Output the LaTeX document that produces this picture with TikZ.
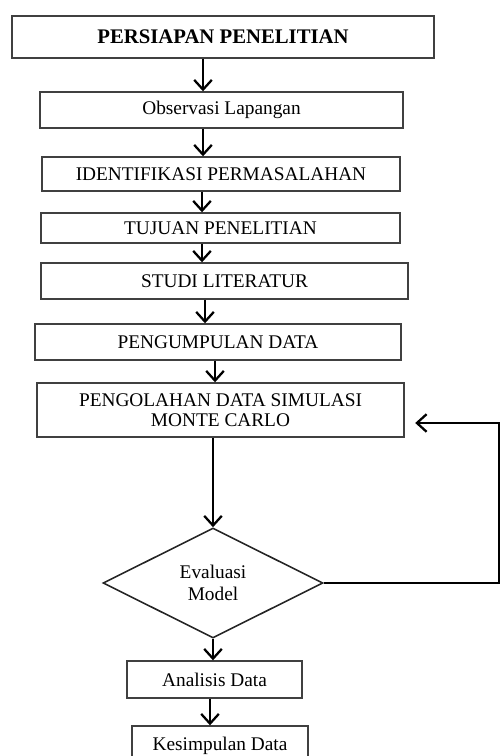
\documentclass[tikz,border=0pt]{standalone}
\usepackage{fontspec}
\setmainfont{Liberation Serif}
\usetikzlibrary{arrows.meta,shapes.geometric}

\begin{document}
\begin{tikzpicture}[x=0.02cm, y=-0.02cm, >={Straight Barb[length=5.5pt,width=10pt]},
        stepbox/.style={draw=black!75, line width=0.8pt, inner sep=2pt, align=center,
            font=\fontsize{11}{11.5}\selectfont},
        decision/.style={diamond, draw=black!85, line width=0.9pt, inner sep=0pt, align=center,
            font=\fontsize{11}{12.5}\selectfont},
        flow/.style={->, line width=1.3pt}]
        \useasboundingbox (0,0) rectangle (500,756);

        % Steps of the research
        \node[stepbox, minimum width=8.44cm, minimum height=0.84cm,
            font=\fontsize{11.8}{13}\selectfont\bfseries] (persiapan) at (223,37) {PERSIAPAN PENELITIAN};
        \node[stepbox, minimum width=7.26cm, minimum height=0.72cm] (observasi) at (221.5,110) {Observasi Lapangan};
        \node[stepbox, minimum width=7.16cm, minimum height=0.68cm] (identifikasi) at (221,174) {IDENTIFIKASI PERMASALAHAN};
        \node[stepbox, minimum width=7.18cm, minimum height=0.60cm] (tujuan) at (220.5,228) {TUJUAN PENELITIAN};
        \node[stepbox, minimum width=7.34cm, minimum height=0.72cm] (studi) at (224.5,281) {STUDI LITERATUR};
        \node[stepbox, minimum width=7.32cm, minimum height=0.72cm] (pengumpulan) at (218,342) {PENGUMPULAN DATA};
        \node[stepbox, minimum width=7.34cm, minimum height=1.08cm] (pengolahan) at (220.5,410) {PENGOLAHAN DATA SIMULASI\\MONTE CARLO};

        % Decision
        \node[decision, minimum width=4.4cm, minimum height=2.2cm] (evaluasi) at (213,583) {Evaluasi\\Model};

        % Final steps
        \node[stepbox, minimum width=3.5cm, minimum height=0.74cm] (analisis) at (214.5,679.5) {Analisis Data};
        \node[stepbox, minimum width=3.52cm, minimum height=0.8cm] (kesimpulan) at (220,746) {Kesimpulan Data};

        % Arrow columns
        \coordinate (c1) at (203,0);
        \coordinate (c2) at (202,0);
        \coordinate (c3) at (205,0);
        \coordinate (c4) at (215,0);
        \coordinate (c5) at (213,0);
        \coordinate (c6) at (210,0);

        % Main flow
        \draw[flow] (persiapan.south -| c1) -- (observasi.north -| c1);
        \draw[flow] (observasi.south -| c1) -- (identifikasi.north -| c1);
        \draw[flow] (identifikasi.south -| c2) -- (tujuan.north -| c2);
        \draw[flow] (tujuan.south -| c2) -- (studi.north -| c2);
        \draw[flow] (studi.south -| c3) -- (pengumpulan.north -| c3);
        \draw[flow] (pengumpulan.south -| c4) -- (pengolahan.north -| c4);
        \draw[flow] (pengolahan.south -| c5) -- (evaluasi.north);
        \draw[flow] (evaluasi.south) -- (analisis.north -| c5);
        \draw[flow] (analisis.south -| c6) -- (kesimpulan.north -| c6);

        % Loop back from the evaluation
        \coordinate (back) at (499,423);
        \draw[flow, shorten >=6pt] (evaluasi.east) -| (back) -- (back -| pengolahan.east);
    \end{tikzpicture}
\end{document}
